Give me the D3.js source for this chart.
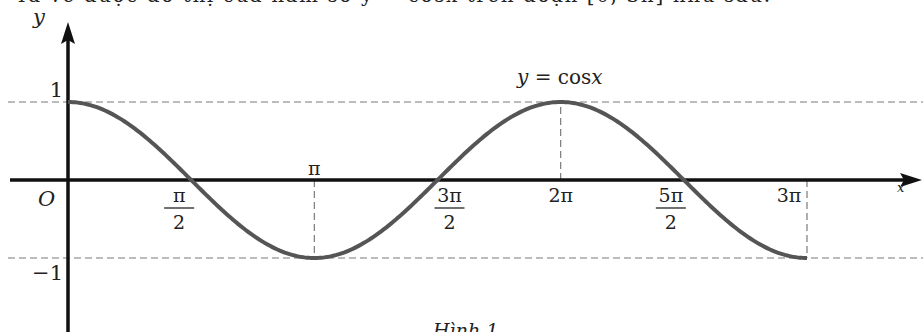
<!DOCTYPE html>
<html lang="vi">
<head>
<meta charset="UTF-8">
<title>y = cos x</title>
<style>
  body { margin: 0; background: #fff; }
  svg { display: block; }
  .it { font-style: italic; }
</style>
</head>
<body>
<div id="chart"></div>
<script src="https://cdnjs.cloudflare.com/ajax/libs/d3/7.8.5/d3.min.js"></script>
<script>
var PI = Math.PI;

// chart values
var xDomain = [0, 3 * PI];
var yDomain = [-1, 1];
var tickValues = [PI / 2, PI, 3 * PI / 2, 2 * PI, 5 * PI / 2, 3 * PI];
var tickNums = ["π", "π", "3π", "2π", "5π", "3π"];
var tickDens = ["2", null, "2", null, "2", null];
var yTickValues = [1, -1];
var yTickLabels = ["1", "−1"];
var dashedX = [PI, 2 * PI, 3 * PI];   // vertical guides
var dashedY = [1, -1];                // horizontal guides
var caption = "Ta vẽ được đồ thị của hàm số y = cosx trên đoạn [0; 3π] như sau.";
var figTitle = "Hình 1";

var width = 923, height = 332;
var serif = "DejaVu Serif";

var x = d3.scaleLinear().domain(xDomain).range([68, 807]);
var y = d3.scaleLinear().domain(yDomain).range([258, 102]);

var svg = d3.select("#chart").append("svg")
    .attr("width", width)
    .attr("height", height)
    .style("font-family", serif);

// cropped line of text above the figure
svg.append("text")
    .attr("x", 15).attr("y", 2)
    .attr("font-size", 20)
    .attr("fill", "#222")
    .attr("textLength", 755)
    .attr("lengthAdjust", "spacing")
    .text(caption);

// horizontal dashed guides
svg.selectAll(".hguide").data(dashedY).enter().append("line")
    .attr("class", "hguide")
    .attr("x1", 8).attr("x2", width)
    .attr("y1", d => y(d)).attr("y2", d => y(d))
    .attr("stroke", "#7a7a7a").attr("stroke-width", 1.2)
    .attr("stroke-dasharray", "7,4");

// vertical dashed guides, from the axis to the curve
svg.selectAll(".vguide").data(dashedX).enter().append("line")
    .attr("class", "vguide")
    .attr("x1", d => x(d)).attr("x2", d => x(d))
    .attr("y1", y(0)).attr("y2", d => y(Math.cos(d)))
    .attr("stroke", "#7a7a7a").attr("stroke-width", 1.2)
    .attr("stroke-dasharray", "7,4");

// axes
var x0 = x(0), y0 = y(0);
svg.append("line")
    .attr("x1", 10).attr("x2", 906)
    .attr("y1", y0).attr("y2", y0)
    .attr("stroke", "#111").attr("stroke-width", 3.5);
svg.append("path")
    .attr("d", `M922,${y0} L900,${y0 - 7} L904,${y0} L900,${y0 + 7} Z`)
    .attr("fill", "#111");
svg.append("line")
    .attr("x1", x0).attr("x2", x0)
    .attr("y1", height).attr("y2", 38)
    .attr("stroke", "#111").attr("stroke-width", 3.5);
svg.append("path")
    .attr("d", `M${x0},22 L${x0 - 7},44 L${x0},40 L${x0 + 7},44 Z`)
    .attr("fill", "#111");

// the curve y = cos x
var samples = d3.range(0, 3 * PI + 1e-9, 3 * PI / 300);
svg.append("path")
    .datum(samples)
    .attr("fill", "none")
    .attr("stroke", "#555")
    .attr("stroke-width", 4)
    .attr("d", d3.line().x(d => x(d)).y(d => y(Math.cos(d))));

function label(px, py, size, txt, cls) {
    return svg.append("text")
        .attr("class", cls || null)
        .attr("x", px).attr("y", py)
        .attr("font-size", size)
        .attr("fill", "#222")
        .text(txt);
}

// axis names and origin
label(33, 24, 21, "y", "it");
label(897, 192, 13, "x", "it");
label(38, 206, 21, "O", "it");

// y tick labels
svg.selectAll(".ylab").data(yTickValues).enter().append("text")
    .attr("class", "ylab")
    .attr("x", x0 - 5)
    .attr("y", (d, i) => i === 0 ? y(d) - 5 : y(d) + 22)
    .attr("text-anchor", "end")
    .attr("font-size", 21)
    .attr("fill", "#222")
    .text((d, i) => yTickLabels[i]);

// x tick labels: fractions sit below the axis, π above it
var labelDx = [-12, 0, 12, 0, -13, -18];
var lab = svg.selectAll(".xlab").data(tickValues).enter().append("g")
    .attr("class", "xlab")
    .attr("transform", (d, i) => `translate(${x(d) + labelDx[i]},${y0})`);

lab.append("text")
    .attr("text-anchor", "middle")
    .attr("font-size", 19)
    .attr("fill", "#222")
    .attr("y", (d, i) => i === 1 ? -5 : 22)
    .text((d, i) => tickNums[i]);

lab.filter((d, i) => tickDens[i]).append("line")
    .attr("x1", -15).attr("x2", 15)
    .attr("y1", 28).attr("y2", 28)
    .attr("stroke", "#222").attr("stroke-width", 1.3);

lab.filter((d, i) => tickDens[i]).append("text")
    .attr("text-anchor", "middle")
    .attr("font-size", 19)
    .attr("fill", "#222")
    .attr("y", 49)
    .text(d => tickDens[tickValues.indexOf(d)]);

// curve name
var nameLab = svg.append("text")
    .attr("x", 517).attr("y", 84).attr("font-size", 20).attr("fill", "#222");
nameLab.append("tspan").attr("class", "it").text("y");
nameLab.append("tspan").text(" = cos");
nameLab.append("tspan").attr("class", "it").text("x");

// figure title, cut by the bottom edge
label(433, 337, 19, figTitle, "it");
</script>
</body>
</html>
